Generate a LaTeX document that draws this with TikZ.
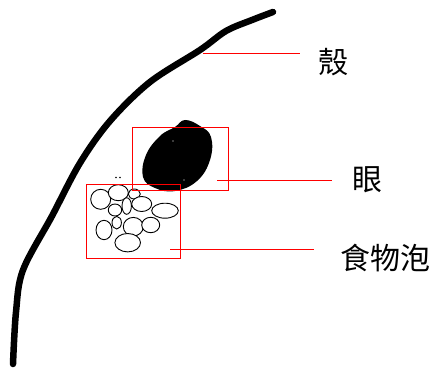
\documentclass[tikz,border=0pt]{standalone}
\usepackage{fontspec}
\newfontfamily\cjk{Noto Sans CJK TC}
\usetikzlibrary{positioning}
\tikzset{redbox/.style={draw=red,line width=1pt,inner sep=0pt}}
\tikzset{pointer/.style={draw=red,line width=1pt}}
\tikzset{label/.style={font=\cjk\fontsize{30}{30}\selectfont,anchor=west,inner sep=0pt}}
\tikzset{bubble/.style={draw=black,line width=0.9pt}}

\begin{document}
\begin{tikzpicture}[x=1pt,y=-1pt]
        \useasboundingbox (0,0) rectangle (435,374);
        % shell outline
        \draw[line width=6.5pt,line cap=round,line join=round]
        plot[smooth,tension=0.55] coordinates {(273,12) (252,20) (226,31)
          (200,50) (150,82) (110,121) (80,163) (52,216) (23,270) (16,312)
          (13,364)};
        % eye
        \fill plot[smooth cycle,tension=0.7] coordinates {(185,120) (200,126)
          (211,137) (210,160) (197,181) (175,191) (155,188) (143,177)
          (146,155) (160,136) (175,127)};
        \fill[white] (173,141) circle (0.6) (184,180) circle (0.6);
        % food vacuoles
        \foreach \cx/\cy/\rx/\ry in {100.7/199.3/10/10, 118.3/192.7/10/8,
          134.3/194/6/5, 115/210/6.7/6, 126.7/206/4.7/8.3, 141.7/204/10/7.5,
          165/210.7/13.3/7.5, 116.7/222.7/4.7/6.3, 104/230/8/9.7,
          133.3/226.7/10/9.3, 150.7/225/9/7.7, 127.7/242.7/12.8/9.2}
          \draw[bubble,fill=white] (\cx,\cy) ellipse [x radius=\rx,y radius=\ry];
        \fill (116,177.5) circle (0.9) (120,177.5) circle (0.9);
        % boxes
        \node[redbox,minimum width=96,minimum height=63] (eyebox) at (180,158.5) {};
        \node[redbox,minimum width=94,minimum height=74] (foodbox) at (133,221) {};
        % labels
        \node[label] (shell) at (318,62) {殼};
        \node[label] (eye) at (352,180) {眼};
        \node[label] (food) at (340,258) {食物泡};
        \coordinate (shellpt) at (203,54);
        \coordinate (shellend) at (300,54);
        \coordinate (eyept) at (217,180.5);
        \coordinate (eyeend) at (332,180.5);
        \coordinate (foodpt) at (170,249.5);
        \coordinate (foodend) at (314,249.5);
        \draw[pointer] (shellpt) -- (shellend);
        \draw[pointer] (eyept) -- (eyeend);
        \draw[pointer] (foodpt) -- (foodend);
      \end{tikzpicture}
\end{document}
